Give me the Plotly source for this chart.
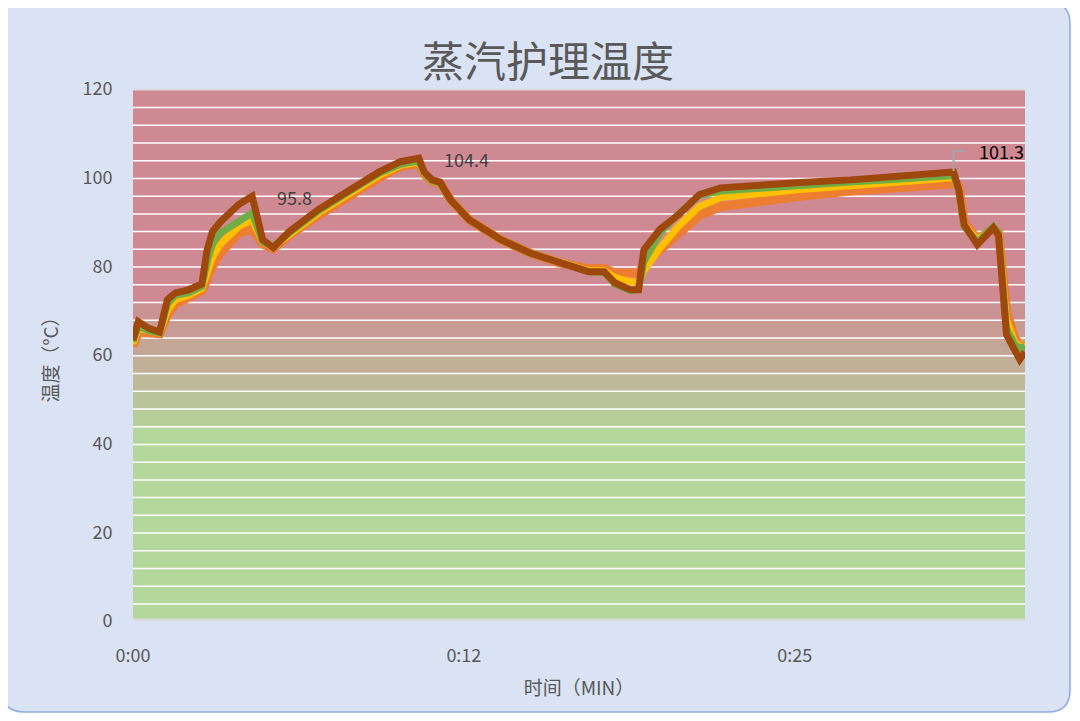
import plotly.graph_objects as go

# time in minutes
t = [0, 0.2, 0.6, 1.0, 1.3, 1.6, 2.1, 2.6, 2.8, 3.0,
     3.3, 3.7, 4.0, 4.5, 4.9, 5.3, 5.9, 7.0, 8.2, 9.3,
     10.1, 10.8, 11.0, 11.3, 11.6, 12.0, 12.7, 13.9, 15.0, 16.1,
     17.2, 17.8, 18.2, 18.8, 19.1, 19.3, 19.9, 20.6, 21.4, 22.2,
     23.3, 25.2, 27.1, 29.0, 30.4, 31.0, 31.2, 31.4, 31.9, 32.5,
     32.7, 33.0, 33.3, 33.5, 33.7]

orange = [62, 65, 65, 64.8, 69, 71.5, 73, 74.5, 77, 80,
          83, 85.5, 87.5, 88.5, 85, 84, 87, 91.5, 96, 100,
          102.5, 103.2, 100.8, 99.2, 98.7, 95, 90.5, 86, 83, 80.8,
          79.5, 79.5, 78.5, 78.5, 78.5, 80.5, 83.5, 87.5, 91.5, 93.5,
          94.5, 95.8, 97, 97.8, 98.3, 98.6, 98, 90, 86, 88.5,
          87.5, 70, 64, 62, 62]
yellow = [62.5, 66, 65.5, 65, 70, 72.5, 73.5, 75, 78.5, 82,
          85, 87, 89, 90.5, 85.5, 84.5, 87.3, 92, 96.5, 100.5,
          102.8, 103.5, 101, 99.3, 98.8, 95, 90.5, 86, 83, 80.8,
          79, 79, 77.5, 76.5, 76.5, 79, 84, 89, 93.5, 95.5,
          96.3, 97.3, 98.2, 99, 99.7, 100, 97.5, 89.5, 86, 88.5,
          87.5, 68, 63, 62, 62]
green = [63, 66.5, 65.5, 65, 71.5, 73.5, 74, 75.5, 81, 85,
         87.5, 89, 90.5, 92, 85.5, 84.5, 87.5, 92.5, 97, 101,
         103, 103.8, 101, 99.3, 98.8, 95, 90.5, 86, 83, 80.8,
         78.8, 78.6, 76, 74.5, 74.8, 81, 87.5, 91.8, 96, 97,
         97.5, 98.3, 99, 99.7, 100.3, 100.5, 97, 89, 85.5, 89,
         87.5, 66, 62.5, 61.5, 62]
brown = [63.4, 67.5, 66, 65.2, 72.5, 74, 74.7, 76, 83.7, 87.8,
         90, 92, 94, 95.8, 86, 84.2, 87.8, 92.8, 97.3, 101.3,
         103.6, 104.4, 101.3, 99.5, 99, 95, 90.5, 86, 83, 80.8,
         78.8, 78.8, 76.3, 74.7, 74.7, 83.7, 88.3, 91.6, 96.2, 97.7,
         98.2, 98.9, 99.5, 100.2, 101, 101.3, 97.3, 89.4, 84.9, 88.7,
         87, 64.6, 61.2, 59, 60.7]

tick_vals = [0, 12.5, 25]
tick_text = ['0:00', '0:12', '0:25']

fig = go.Figure()
for vals, col, w in [(orange, '#ed7d31', 9), (yellow, '#ffc000', 7),
                     (green, '#70ad47', 7), (brown, '#9e480e', 7)]:
    fig.add_trace(go.Scatter(x=t, y=vals, mode='lines', line=dict(color=col, width=w),
                             showlegend=False, hoverinfo='skip'))

# rounded background card (page is offset 8px by body margin)
W, H = 892, 532
def px(p): return (p - 133) / W
def py(p): return (621 - p) / H
x0, x1, y0, y1, r = 2, 1070, 2, 712, 22
path = (f"M {px(x0+r)},{py(y0)} L {px(x1-r)},{py(y0)} Q {px(x1)},{py(y0)} {px(x1)},{py(y0+r)} "
        f"L {px(x1)},{py(y1-r)} Q {px(x1)},{py(y1)} {px(x1-r)},{py(y1)} "
        f"L {px(x0+r)},{py(y1)} Q {px(x0)},{py(y1)} {px(x0)},{py(y1-r)} "
        f"L {px(x0)},{py(y0+r)} Q {px(x0)},{py(y0)} {px(x0+r)},{py(y0)} Z")
shapes = [dict(type='path', xref='paper', yref='paper', path=path, fillcolor='#dae3f3',
               line=dict(color='#8faadc', width=1.5), layer='below')]

# gradient bands
g, rd = (180, 215, 155), (207, 137, 147)
for lo in range(0, 120, 4):
    f = min(max((lo + 2 - 42) / 32, 0), 1)
    c = tuple(int(g[i] + (rd[i] - g[i]) * f) for i in range(3))
    shapes.append(dict(type='rect', xref='paper', yref='y', x0=0, x1=1, y0=lo, y1=lo + 4,
                       fillcolor=f'rgb{c}', line_width=0, layer='below'))
    shapes.append(dict(type='line', xref='paper', yref='y', x0=0, x1=1, y0=lo + 4, y1=lo + 4,
                       line=dict(color='white' if lo + 4 < 120 else '#d9d9d9', width=3), layer='below'))
shapes.append(dict(type='line', xref='paper', yref='y', x0=0, x1=1, y0=0, y1=0,
                   line=dict(color='#d9d9d9', width=5), layer='below'))
# leader line for last label
shapes.append(dict(type='path', xref='x', yref='y',
                   path="M 31.0,101.5 L 31.0,106 L 31.4,106", line=dict(color='#a6a6a6', width=2)))

fig.update_layout(
    width=1080, height=721,
    margin=dict(l=125, r=63, t=81, b=108),
    paper_bgcolor='white', plot_bgcolor='rgba(0,0,0,0)',
    font=dict(family='Noto Sans CJK SC', color='#595959'),
    title=dict(text='蒸汽护理温度', x=0.5, xanchor='center', y=0.925, yanchor='middle',
               font=dict(size=42, color='#595959')),
    shapes=shapes,
    xaxis=dict(range=[0, 33.7], tickvals=tick_vals, ticktext=tick_text, showgrid=False,
               zeroline=False, tickfont=dict(size=18), ticks='outside', ticklen=18,
               tickcolor='rgba(0,0,0,0)',
               title=dict(text='时间（MIN）', font=dict(size=19), standoff=16)),
    yaxis=dict(range=[0, 120], dtick=20, showgrid=False, zeroline=False,
               tickfont=dict(size=18), ticks='outside', ticklen=16, tickcolor='rgba(0,0,0,0)',
               title=dict(text='温度（°C）', font=dict(size=19), standoff=18)),
    annotations=[
        dict(x=6.1, y=95.6, text='95.8', showarrow=False, font=dict(size=18, color='#404040')),
        dict(x=12.6, y=104.2, text='104.4', showarrow=False, font=dict(size=18, color='#404040')),
        dict(x=32.8, y=106, text='101.3', showarrow=False, font=dict(size=18, color='black')),
    ],
)

fig.write_html("out.html")
